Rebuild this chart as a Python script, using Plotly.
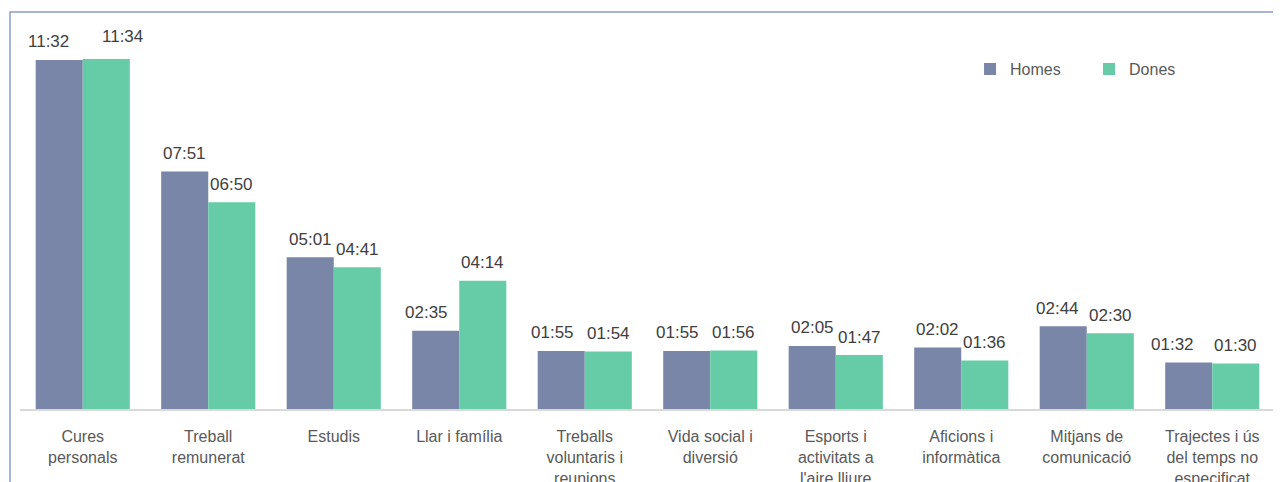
import plotly.graph_objects as go

categories = ["Cures<br>personals", "Treball<br>remunerat", "Estudis", "Llar i família",
              "Treballs<br>voluntaris i<br>reunions", "Vida social i<br>diversió",
              "Esports i<br>activitats a<br>l'aire lliure", "Aficions i<br>informàtica",
              "Mitjans de<br>comunicació", "Trajectes i ús<br>del temps no<br>especificat"]
homes = ["11:32", "07:51", "05:01", "02:35", "01:55", "01:55", "02:05", "02:02", "02:44", "01:32"]
dones = ["11:34", "06:50", "04:41", "04:14", "01:54", "01:56", "01:47", "01:36", "02:30", "01:30"]

# label nudges (pixels) as placed in the reference, to avoid overlaps
homes_label_dx = [-11, 0, 0, -9, -9, -9, 0, 0, -6, -16]
dones_label_dx = [16, 0, 0, 0, 0, 0, 0, 0, 0, 0]
dones_label_dy = [4, 0, 0, 0, 0, 0, 0, 0, 0, 0]


def to_min(s):
    h, m = s.split(":")
    return int(h) * 60 + int(m)


FONT = "Liberation Sans, Arial, sans-serif"
xs = list(range(len(categories)))
h_min = [to_min(v) for v in homes]
d_min = [to_min(v) for v in dones]

fig = go.Figure()
fig.add_trace(go.Bar(name="Homes", x=xs, y=h_min, marker_color="#7A86A8",
                     marker_line_width=0, hoverinfo="text", hovertext=homes))
fig.add_trace(go.Bar(name="Dones", x=xs, y=d_min, marker_color="#66CCA8",
                     marker_line_width=0, hoverinfo="text", hovertext=dones))

# data labels above each bar
bar_half = 0.1875
for i in xs:
    fig.add_annotation(x=i - bar_half, y=h_min[i], text=homes[i], showarrow=False,
                       yanchor="middle", yshift=18, xshift=homes_label_dx[i],
                       font=dict(size=17, color="#404040", family=FONT))
    fig.add_annotation(x=i + bar_half, y=d_min[i], text=dones[i], showarrow=False,
                       yanchor="middle", yshift=18 + dones_label_dy[i], xshift=dones_label_dx[i],
                       font=dict(size=17, color="#404040", family=FONT))

fig.update_layout(
    width=1281, height=482,
    margin=dict(l=12, r=14, t=4, b=81, autoexpand=False),
    plot_bgcolor="white", paper_bgcolor="white",
    barmode="group", bargap=0.25, bargroupgap=0,
    font=dict(family=FONT, size=16, color="#595959"),
    legend=dict(orientation="h", x=0.757, y=0.856, xanchor="left", yanchor="middle",
                font=dict(size=16, color="#595959"), itemwidth=30,
                entrywidth=74, entrywidthmode="pixels", bgcolor="rgba(0,0,0,0)"),
)
fig.update_xaxes(tickmode="array", tickvals=xs, ticktext=categories,
                 range=[-0.5, len(categories) - 0.5], showgrid=False, showline=True,
                 linecolor="#D9D9D9", linewidth=2, ticks="", automargin=False,
                 ticklabelstandoff=12,
                 tickfont=dict(size=16, color="#595959", family=FONT))
fig.update_yaxes(range=[0, 787], visible=False, showgrid=False, zeroline=False)

# outer frame (partially cropped in the reference)
fig.add_shape(type="rect", xref="paper", yref="paper", x0=-0.00797, x1=1.05, y0=-0.4, y1=1.0,
              line=dict(color="#8C9CC6", width=1.5), layer="above")

fig.write_html("out.html")
